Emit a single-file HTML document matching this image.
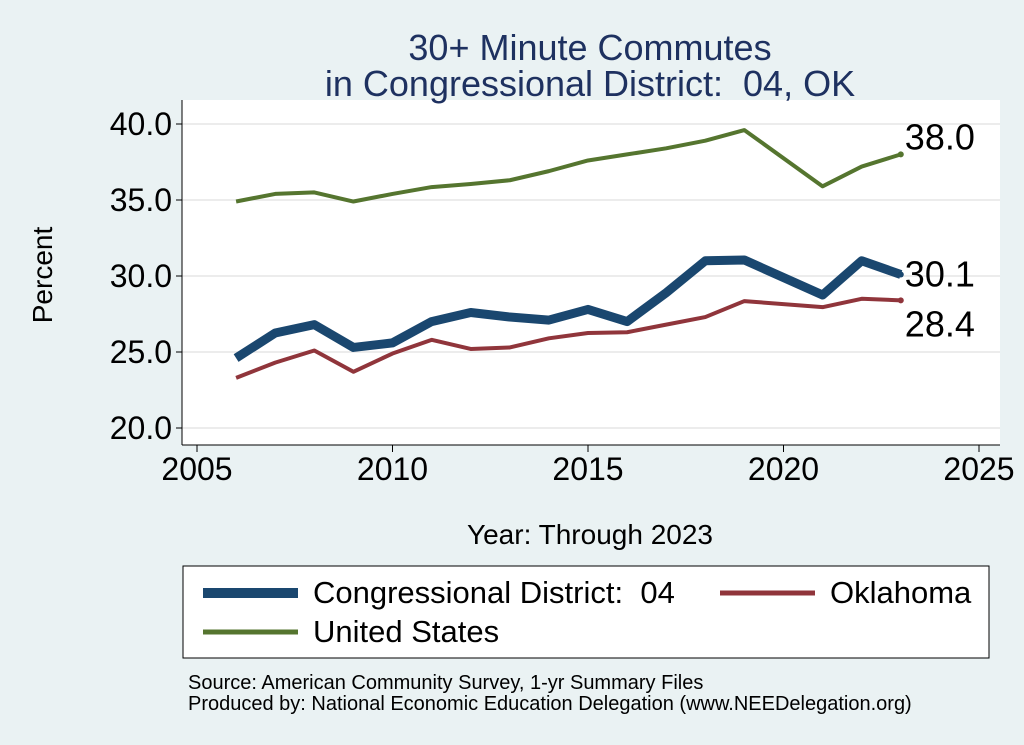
<!DOCTYPE html>
<html><head><meta charset="utf-8"><style>
body{margin:0;background:#eaf2f3;}
svg{display:block;font-family:"Liberation Sans",Arial,sans-serif;}
text{white-space:pre;}
</style></head><body>
<svg id="chart" width="1024" height="745" viewBox="0 0 1024 745" xml:space="preserve">
<rect x="0" y="0" width="1024" height="745" fill="#eaf2f3"/>
<rect x="182" y="100" width="818" height="345" fill="#ffffff"/>
<text x="590" y="60" text-anchor="middle" font-size="36" fill="#1e3160">30+ Minute Commutes</text>
<text x="590" y="96" text-anchor="middle" font-size="36" fill="#1e3160">in Congressional District:  04, OK</text>
<g id="grid"></g>
<g id="axes"></g>
<g id="series"></g>
<text x="52" y="275" text-anchor="middle" font-size="28" transform="rotate(-90 52 275)">Percent</text>
<text x="590" y="544" text-anchor="middle" font-size="28">Year: Through 2023</text>
<g>
<rect x="183" y="566" width="806" height="92" fill="#ffffff" stroke="#000" stroke-width="1"/>
<line x1="203" y1="593" x2="298" y2="593" stroke="#1a476f" stroke-width="10"/>
<text x="313" y="603" font-size="31">Congressional District:  04</text>
<line x1="720" y1="593" x2="815" y2="593" stroke="#90353b" stroke-width="5"/>
<text x="830" y="603" font-size="31">Oklahoma</text>
<line x1="203" y1="632" x2="298" y2="632" stroke="#55752f" stroke-width="5"/>
<text x="313" y="642" font-size="31">United States</text>
</g>
<text x="188" y="689" font-size="20">Source: American Community Survey, 1-yr Summary Files</text>
<text x="188" y="710" font-size="20">Produced by: National Economic Education Delegation (www.NEEDelegation.org)</text>
</svg>
<script>
const years=[2006,2007,2008,2009,2010,2011,2012,2013,2014,2015,2016,2017,2018,2019,2021,2022,2023];
const district=[24.6,26.25,26.8,25.3,25.6,27.0,27.6,27.3,27.1,27.8,27.0,28.9,31.0,31.05,28.75,31.0,30.1];
const oklahoma=[23.3,24.3,25.1,23.7,24.9,25.8,25.2,25.3,25.9,26.25,26.3,26.8,27.3,28.35,27.95,28.5,28.4];
const unitedStates=[34.9,35.4,35.5,34.9,35.4,35.85,36.05,36.3,36.9,37.6,38.0,38.4,38.9,39.6,35.9,37.2,38.0];
const yTicks=[20,25,30,35,40];
const xTicks=[2005,2010,2015,2020,2025];
const NS="http://www.w3.org/2000/svg";
function xs(v){return 197+(v-2005)*(979-197)/20;}
function ys(v){return 428-(v-20)*(428-124)/20;}
function mk(tag,attrs,parent){const e=document.createElementNS(NS,tag);for(const k in attrs)e.setAttribute(k,attrs[k]);document.getElementById(parent).appendChild(e);return e;}
yTicks.forEach(t=>{
 let g=mk('line',{x1:182,x2:1000,y1:ys(t),y2:ys(t),stroke:'#e6e6e6','stroke-width':1.5},'grid');
 
 
 let tk=mk('line',{x1:176,x2:182,y1:ys(t),y2:ys(t),stroke:'#000'},'axes');
 
 
 let tx=mk('text',{x:172,y:ys(t)+11,'text-anchor':'end','font-size':32},'axes');
 tx.textContent=t.toFixed(1);
 
 
});
xTicks.forEach(t=>{
 let tk=mk('line',{x1:xs(t),x2:xs(t),y1:445,y2:452,stroke:'#000'},'axes');
 
 
 let tx=mk('text',{x:xs(t),y:480,'text-anchor':'middle','font-size':32},'axes');
 tx.textContent=t;
 
 
});
let ya=mk('line',{x1:182,x2:182,y1:100,y2:445,stroke:'#000'},'axes');


let xa=mk('line',{x1:182,x2:1000,y1:445,y2:445,stroke:'#000'},'axes');


function series(vals,color,w,name,labelDy){
 const pts=years.map((y,i)=>xs(y)+','+ys(vals[i])).join(' ');
 let p=mk('polyline',{points:pts,fill:'none',stroke:color,'stroke-width':w,'stroke-linejoin':'round'},'series');
 
 
 const last=vals[vals.length-1],lx=xs(years[years.length-1]);
 let c=mk('circle',{cx:lx,cy:ys(last),r:3,fill:color},'series');
 
 
 let t=mk('text',{x:lx+4,y:ys(last)+labelDy,'font-size':36},'series');
 t.textContent=last.toFixed(1);
 
 
}
series(unitedStates,'#55752f',4,'united-states',-5);
series(oklahoma,'#90353b',4,'oklahoma',36);
series(district,'#1a476f',9,'district',12);
</script>
</body></html>
